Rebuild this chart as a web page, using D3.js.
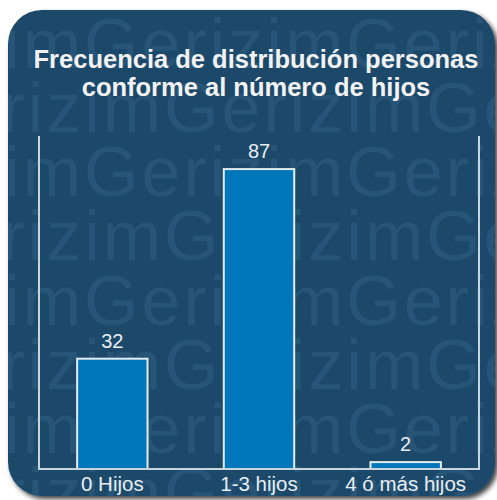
<!DOCTYPE html>
<html>
<head>
<meta charset="utf-8">
<script src="https://cdn.jsdelivr.net/npm/d3@7"></script>
<style>
  html, body { margin: 0; padding: 0; background: #ffffff; }
  svg { display: block; }
</style>
</head>
<body>
<svg id="chart" width="497" height="500"></svg>
<script>
// datos del grafico
const categorias = ["0 Hijos", "1-3 hijos", "4 ó más hijos"];
const valores = [32, 87, 2];
const titulo = ["Frecuencia de distribución personas", "conforme al número de hijos"];
const marcaAgua = "Gerizim";

const svg = d3.select("#chart"),
    width = +svg.attr("width"),
    height = +svg.attr("height");

const margin = {top: 136, right: 18, bottom: 31, left: 39};

// sombra de la tarjeta
const defs = svg.append("defs");
const sombra = defs.append("filter").attr("id", "sombra")
    .attr("x", "-10%").attr("y", "-10%").attr("width", "120%").attr("height", "120%");
sombra.append("feDropShadow")
    .attr("dx", 3).attr("dy", 3).attr("stdDeviation", 2.5)
    .attr("flood-color", "#000").attr("flood-opacity", 0.75);

defs.append("clipPath").attr("id", "recorte")
  .append("rect")
    .attr("x", 8).attr("y", 10).attr("width", 487).attr("height", 486)
    .attr("rx", 34).attr("ry", 34);

svg.append("rect")
    .attr("x", 8).attr("y", 10).attr("width", 487).attr("height", 486)
    .attr("rx", 34).attr("ry", 34)
    .attr("fill", "#1f4a6b")
    .attr("filter", "url(#sombra)");

// marca de agua
const filas = d3.range(8);
svg.append("g")
    .attr("clip-path", "url(#recorte)")
  .selectAll("text")
  .data(filas)
  .enter().append("text")
    .attr("x", (d) => d % 2 == 0 ? -178 : -98)
    .attr("y", (d) => 67.8 + d * 64.2)
    .attr("font-family", "Liberation Sans, Arial, sans-serif")
    .attr("font-size", 70)
    .attr("letter-spacing", 3)
    .attr("fill", "#2f5f84")
    .attr("fill-opacity", 0.55)
    .text(marcaAgua.repeat(4));

// escalas
const x = d3.scaleBand()
    .domain(categorias)
    .range([margin.left, width - margin.right])
    .paddingInner(0.52)
    .paddingOuter(0.26);

const y = d3.scaleLinear()
    .domain([0, 96.6])
    .range([height - margin.bottom, margin.top]);

// titulo
svg.append("text")
    .attr("x", 256)
    .attr("y", 68)
    .attr("text-anchor", "middle")
    .attr("font-family", "Liberation Sans, Arial, sans-serif")
    .attr("font-weight", "bold")
    .attr("font-size", 25.5)
    .attr("fill", "#f2f2f2")
  .selectAll("tspan")
  .data(titulo)
  .enter().append("tspan")
    .attr("x", 256)
    .attr("dy", (d, i) => i == 0 ? 0 : 28)
    .text((d) => d);

// barras
svg.selectAll(".barra")
    .data(valores)
    .enter().append("rect")
    .attr("class", "barra")
    .attr("x", (d, i) => x(categorias[i]))
    .attr("y", (d) => y(d))
    .attr("width", x.bandwidth())
    .attr("height", (d) => y(0) - y(d))
    .attr("fill", "#0076bb")
    .attr("stroke", "#e4ecf2")
    .attr("stroke-width", 2);

// marco
svg.append("path")
    .attr("d", "M" + margin.left + "," + margin.top +
        "V" + y(0) + "H" + (width - margin.right) + "V" + margin.top)
    .attr("fill", "none")
    .attr("stroke", "#c9d5de")
    .attr("stroke-width", 2);

// etiquetas de valor
svg.selectAll(".valor")
    .data(valores)
    .enter().append("text")
    .attr("class", "valor")
    .attr("x", (d, i) => x(categorias[i]) + x.bandwidth() / 2)
    .attr("y", (d) => y(d) - 11)
    .attr("text-anchor", "middle")
    .attr("font-family", "Liberation Sans, Arial, sans-serif")
    .attr("font-size", 20)
    .attr("fill", "#e8eef2")
    .text((d) => d);

// eje x
const ejeX = svg.append("g")
    .attr("transform", "translate(0," + y(0) + ")")
    .call(d3.axisBottom(x).tickSize(0).tickPadding(7));
ejeX.select(".domain").remove();
ejeX.selectAll("text")
    .attr("dy", "0.71em")
    .attr("font-family", "Liberation Sans, Arial, sans-serif")
    .attr("font-size", 20.5)
    .attr("fill", "#e8eef2");
</script>
</body>
</html>
